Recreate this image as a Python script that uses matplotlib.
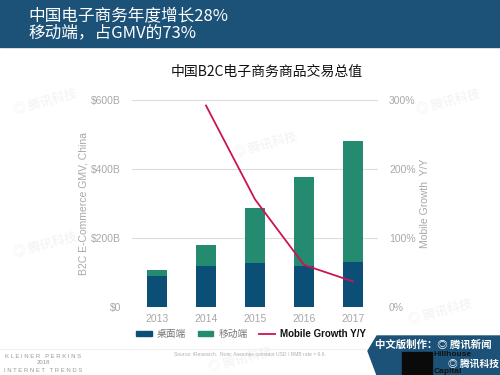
import matplotlib
matplotlib.use("Agg")
import matplotlib.pyplot as plt
from matplotlib.patches import Polygon, Rectangle, Patch
from matplotlib.lines import Line2D

plt.rcParams['font.family'] = ['Liberation Sans', 'Noto Sans CJK SC', 'DejaVu Sans']
CJK = ['Noto Sans CJK SC', 'DejaVu Sans']

years = ['2013', '2014', '2015', '2016', '2017']
desktop = [90, 119, 127, 119, 130]
mobile = [16, 62, 159, 257, 351]
growth_years = [1, 2, 3, 4]
growth = [292, 156, 61, 37]
left_ticks = [0, 200, 400, 600]
left_labels = ['$0', '$200B', '$400B', '$600B']
right_ticks = [0, 100, 200, 300]
right_labels = ['0%', '100%', '200%', '300%']

c_desk = '#0b4f76'
c_mob = '#248a70'
c_line = '#cc1450'
c_gray = '#a8a8a8'

fig = plt.figure(figsize=(5, 3.75), dpi=100)
W, H = 500, 375
def fx(x): return x / W
def fy(y): return 1 - y / H

# header band
fig.patches.append(Rectangle((0, fy(47)), 1, 47 / H, transform=fig.transFigure,
                             color='#1c5278', zorder=0))
fig.text(fx(28), fy(16), '中国电子商务年度增长28%', color='white', fontsize=12,
         va='center', ha='left', family=CJK)
fig.text(fx(28), fy(33), '移动端，占GMV的73%', color='white', fontsize=12,
         va='center', ha='left', family=CJK)

# faint watermarks
for (x, y) in [(45, 102), (448, 102), (265, 145), (45, 245), (440, 312), (240, 360)]:
    fig.text(fx(x), fy(y), '◎ 腾讯科技', color='#f2f2f2', fontsize=9, rotation=15,
             ha='center', va='center', zorder=0.5, family=CJK)

fig.text(fx(267), fy(72), '中国B2C电子商务商品交易总值', color='#111111', fontsize=10,
         ha='center', va='center', family=CJK)

ax = fig.add_axes([fx(132), fy(307), (378 - 132) / W, (307 - 100) / H])
ax.set_facecolor('none')
x = list(range(len(years)))
ax.bar(x, desktop, width=0.39, color=c_desk, zorder=3)
ax.bar(x, mobile, width=0.39, bottom=desktop, color=c_mob, zorder=3)
ax.set_xlim(-0.51, 4.51)
ax.set_ylim(0, 600)
ax.set_yticks(left_ticks)
ax.set_yticklabels(left_labels)
ax.set_xticks(x)
ax.set_xticklabels(years)
ax.tick_params(axis='both', length=0, colors=c_gray, labelsize=7.5)
ax.tick_params(axis='y', pad=8)
ax.tick_params(axis='x', pad=5)
for s in ax.spines.values():
    s.set_visible(False)
ax.grid(axis='y', color='#dcdcdc', linewidth=0.8, zorder=0)
ax.set_ylabel('B2C E-Commerce GMV, China', color=c_gray, fontsize=7.5, labelpad=2)

ax2 = ax.twinx()
ax2.plot(growth_years, growth, color=c_line, linewidth=1.3, zorder=4)
ax2.set_ylim(0, 300)
ax2.set_yticks(right_ticks)
ax2.set_yticklabels(right_labels)
ax2.tick_params(axis='y', length=0, colors=c_gray, labelsize=7.5, pad=8)
for s in ax2.spines.values():
    s.set_visible(False)
ax2.set_ylabel('Mobile Growth  Y/Y', color=c_gray, fontsize=7.5, labelpad=3)

handles = [Patch(color=c_desk), Patch(color=c_mob), Line2D([0], [0], color=c_line, lw=1.3)]
leg = fig.legend(handles, ['桌面端', '移动端', 'Mobile Growth Y/Y'], ncol=3,
                 loc='center', bbox_to_anchor=(fx(251), fy(334)), frameon=False,
                 fontsize=7, handlelength=1.6, handleheight=0.35, columnspacing=1.2,
                 handletextpad=0.5)
cols = ['#777777', '#777777', '#111111']
for t, c in zip(leg.get_texts(), cols):
    t.set_color(c)
leg.get_texts()[0].set_family(CJK)
leg.get_texts()[1].set_family(CJK)
leg.get_texts()[2].set_fontweight('bold')

# footer
fig.lines.append(Line2D([0, fx(370)], [fy(349), fy(349)], transform=fig.transFigure,
                        color='#f0f0f0', lw=0.8))
fig.text(fx(43), fy(356), 'K L E I N E R   P E R K I N S', color='#999999', fontsize=4.3,
         ha='center', va='center')
fig.text(fx(43), fy(363), '2018', color='#999999', fontsize=4.3, ha='center', va='center')
fig.text(fx(43), fy(370), 'I N T E R N E T   T R E N D S', color='#999999', fontsize=4.3,
         ha='center', va='center')
fig.text(fx(250), fy(355), 'Source: iResearch.  Note: Assumes constant USD / RMB rate = 6.6.',
         color='#b0b0b0', fontsize=3.6, ha='center', va='center')

# badge
badge = Polygon([(fx(377), fy(336)), (fx(500), fy(336)), (fx(500), fy(375)),
                 (fx(377), fy(375)), (fx(368), fy(351))], closed=True,
                transform=fig.transFigure, color='#1c5278', zorder=2)
fig.patches.append(badge)
fig.text(fx(433), fy(345), '中文版制作：◎ 腾讯新闻', color='white', fontsize=7.5,
         fontweight='bold', style='italic', ha='center', va='center', zorder=3, family=CJK)
fig.patches.append(Rectangle((fx(402), fy(375)), 30 / W, 23 / H, transform=fig.transFigure,
                             color='#0a0a0a', zorder=3))
fig.text(fx(434), fy(355), 'Hillhouse', color='#111111', fontsize=6, fontweight='bold',
         ha='left', va='center', zorder=4)
fig.text(fx(434), fy(371.5), 'Capital', color='#111111', fontsize=6, fontweight='bold',
         ha='left', va='center', zorder=4)
fig.text(fx(474), fy(363.5), '◎ 腾讯科技', color='white', fontsize=7, fontweight='bold',
         style='italic', ha='center', va='center', zorder=5, family=CJK)

fig.savefig('out.png', dpi=100)
